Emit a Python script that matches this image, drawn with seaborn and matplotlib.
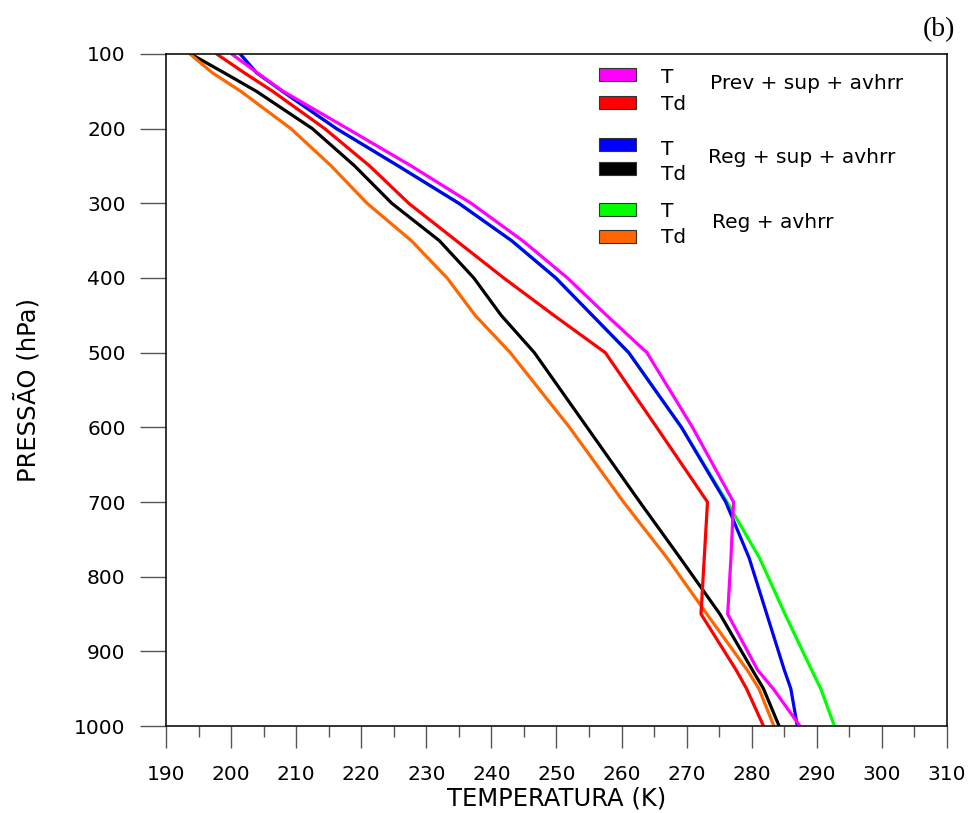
import numpy as np
import pandas as pd
import seaborn as sns
import matplotlib.pyplot as plt
from matplotlib.patches import Rectangle
from matplotlib.ticker import MultipleLocator

sns.set_style('ticks')
plt.rcParams['font.family'] = ['DejaVu Sans']
plt.rcParams['text.color'] = 'black'
plt.rcParams['axes.labelcolor'] = 'black'
plt.rcParams['xtick.labelcolor'] = 'black'
plt.rcParams['ytick.labelcolor'] = 'black'

# niveis de pressao (hPa)
levels = [100, 125, 150, 200, 250, 300, 350, 400, 450, 500, 600, 700, 775, 850, 925, 950, 1000]

# temperaturas (K)
prev_T = [200.1, 204.0, 208.0, 217.9, 227.7, 236.9, 244.8, 251.7, 257.7, 263.9, 270.9, 277.2, 276.8, 276.3, 280.9, 283.3, 287.4]
prev_Td = [197.8, 202.0, 206.4, 214.4, 221.3, 227.3, 234.6, 241.9, 249.6, 257.5, 265.4, 273.2, 272.7, 272.2, 277.6, 279.2, 281.8]
regsup_T = [201.4, 203.9, 207.9, 216.2, 225.7, 235.0, 243.1, 249.9, 255.5, 261.1, 269.2, 276.0, 279.6, 282.3, 285.0, 286.0, 287.0]
regsup_Td = [193.8, 198.9, 203.9, 212.5, 219.0, 224.7, 232.0, 237.3, 241.5, 246.6, 254.7, 262.8, 269.0, 275.1, 280.1, 281.8, 284.2]
reg_T = [201.4, 203.9, 207.9, 216.2, 225.7, 235.0, 243.1, 249.9, 255.5, 261.1, 269.2, 276.2, 281.2, 285.1, 289.2, 290.6, 292.7]
reg_Td = [193.7, 197.1, 201.5, 209.2, 215.4, 220.9, 227.7, 233.2, 237.5, 242.9, 252.0, 260.3, 267.0, 273.1, 279.3, 281.1, 283.4]

series = {
    'reg_T': reg_T,
    'regsup_T': regsup_T,
    'regsup_Td': regsup_Td,
    'reg_Td': reg_Td,
    'prev_T': prev_T,
    'prev_Td': prev_Td,
}
colors = {
    'reg_T': '#00FF00',
    'regsup_T': '#0000FF',
    'regsup_Td': '#000000',
    'reg_Td': '#FF6600',
    'prev_T': '#FF00FF',
    'prev_Td': '#FF0000',
}

frames = []
for name, vals in series.items():
    frames.append(pd.DataFrame({'serie': name, 'T': vals, 'p': levels}))
df = pd.concat(frames, ignore_index=True)

fig = plt.figure(figsize=(9.74, 8.13), dpi=100)
ax = fig.add_axes([0.1704, 0.1070, 0.8019, 0.8266])

sns.lineplot(data=df, x='T', y='p', hue='serie', hue_order=list(series.keys()),
             palette=colors, sort=False, estimator=None, legend=False,
             linewidth=2.3, ax=ax)

ax.set_xlim(190, 310)
ax.set_ylim(1000, 100)
ax.set_xticks(np.arange(190, 311, 10))
ax.xaxis.set_minor_locator(MultipleLocator(5))
ax.set_yticks(np.arange(100, 1001, 100))

ax.tick_params(axis='x', which='major', direction='out', length=16, width=1, color='#555555', pad=12, labelsize=14.5)
ax.tick_params(axis='x', which='minor', direction='out', length=8, width=1, color='#555555')
ax.tick_params(axis='y', which='major', direction='out', length=19, width=1, color='#555555', pad=10, labelsize=14.5)

for s in ax.spines.values():
    s.set_linewidth(1.2)
    s.set_color('#111111')

ax.set_xlabel('TEMPERATURA (K)', fontsize=17.5, labelpad=2)
ax.set_ylabel('PRESSÃO (hPa)', fontsize=17.5, labelpad=24)

# legenda desenhada a mao
legend_rows = [
    ('prev_T', 0.9798, 'T', 0.9564),
    ('prev_Td', 0.9378, 'Td', 0.9167),
    ('regsup_T', 0.8757, 'T', 0.8497),
    ('regsup_Td', 0.8393, 'Td', 0.8125),
    ('reg_T', 0.7783, 'T', 0.7579),
    ('reg_Td', 0.7381, 'Td', 0.7183),
]
for name, ytop, lab, ybase in legend_rows:
    ax.add_patch(Rectangle((0.5545, ytop - 0.0195), 0.047, 0.0195, transform=ax.transAxes,
                           facecolor=colors[name], edgecolor='#333333', linewidth=0.8))
    ax.text(0.634, ybase, lab, transform=ax.transAxes, fontsize=14.5, va='baseline', ha='left')

ax.text(0.6965, 0.9475, 'Prev + sup + avhrr', transform=ax.transAxes, fontsize=14.5, va='baseline')
ax.text(0.6944, 0.8373, 'Reg + sup + avhrr', transform=ax.transAxes, fontsize=14.5, va='baseline')
ax.text(0.6987, 0.7406, 'Reg + avhrr', transform=ax.transAxes, fontsize=14.5, va='baseline')

fig.text(0.964, 0.963, '(b)', fontsize=20, family='Liberation Serif', ha='center', va='center')

plt.savefig('out.png', dpi=100)
